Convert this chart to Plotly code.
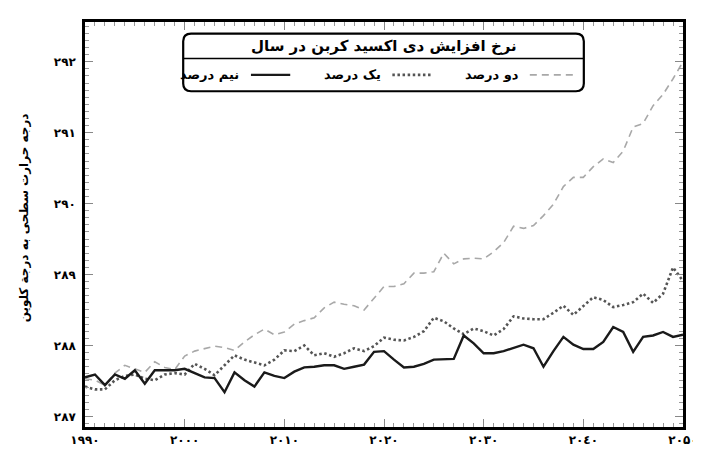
import plotly.graph_objects as go

years = list(range(1990, 2051))

half_pct = [287.55, 287.59, 287.44, 287.59, 287.53, 287.65, 287.46, 287.65, 287.65, 287.65,
            287.67, 287.61, 287.55, 287.54, 287.34, 287.62, 287.51, 287.42, 287.62, 287.57,
            287.54, 287.63, 287.69, 287.70, 287.72, 287.72, 287.67, 287.70, 287.73, 287.91,
            287.92, 287.80, 287.69, 287.70, 287.74, 287.80, 287.81, 287.81, 288.14, 288.03,
            287.89, 287.89, 287.92, 287.96, 288.01, 287.96, 287.70, 287.92, 288.12, 288.01,
            287.95, 287.95, 288.05, 288.26, 288.19, 287.91, 288.12, 288.14, 288.19, 288.12,
            288.15]

one_pct = [287.42, 287.38, 287.38, 287.51, 287.57, 287.59, 287.53, 287.51, 287.59, 287.61,
           287.59, 287.74, 287.67, 287.58, 287.72, 287.86, 287.80, 287.76, 287.72, 287.80,
           287.93, 287.92, 288.00, 287.86, 287.89, 287.84, 287.89, 287.96, 287.92, 287.99,
           288.11, 288.08, 288.07, 288.12, 288.20, 288.39, 288.34, 288.24, 288.16, 288.24,
           288.20, 288.14, 288.23, 288.41, 288.38, 288.37, 288.37, 288.46, 288.56, 288.43,
           288.56, 288.68, 288.64, 288.54, 288.57, 288.61, 288.73, 288.60, 288.73, 289.10,
           288.91]

two_pct = [287.53, 287.51, 287.44, 287.61, 287.72, 287.67, 287.62, 287.77, 287.69, 287.66,
           287.85, 287.92, 287.95, 287.99, 287.97, 287.93, 288.05, 288.15, 288.23, 288.15,
           288.19, 288.30, 288.35, 288.39, 288.53, 288.61, 288.58, 288.56, 288.50, 288.66,
           288.83, 288.83, 288.87, 289.02, 289.02, 289.04, 289.30, 289.15, 289.22, 289.23,
           289.22, 289.32, 289.45, 289.68, 289.65, 289.69, 289.83, 289.99, 290.24, 290.37,
           290.37, 290.52, 290.63, 290.58, 290.74, 291.08, 291.13, 291.38, 291.54, 291.76,
           292.00]

x_tickvals = [1990, 2000, 2010, 2020, 2030, 2040, 2050]
x_ticktext = ["۱۹۹۰", "۲۰۰۰", "۲۰۱۰", "۲۰۲۰", "۲۰۳۰", "۲۰٤۰", "۲۰۵۰"]
y_tickvals = [287, 288, 289, 290, 291, 292]
y_ticktext = ["۲۸۷", "۲۸۸", "۲۸۹", "۲۹۰", "۲۹۱", "۲۹۲"]

legend_title = "نرخ افزایش دی اکسید کربن در سال"
series_names = ["دو درصد", "یک درصد", "نیم درصد"]
y_title = "درجه حرارت سطحی به درجة کلوین"

FONT = "DejaVu Sans"
W, H = 701, 450
ML, MR, MT, MB = 77, 15, 11, 18
PW, PH = W - ML - MR, H - MT - MB


def px(x):
    return (x - ML) / PW


def py(y):
    return (H - MB - y) / PH


styles = [
    dict(color="#a8a8a8", width=1.6, dash="7px,5px"),
    dict(color="#555555", width=2.6, dash="2.5px,2.6px"),
    dict(color="#1a1a1a", width=2.4, dash="solid"),
]

fig = go.Figure()
for name, vals, st in zip(series_names, [two_pct, one_pct, half_pct], styles):
    fig.add_trace(go.Scatter(x=years, y=vals, mode="lines", name=name,
                             line=st, showlegend=False))

axis_common = dict(showgrid=False, zeroline=False, showline=True, linecolor="black",
                   linewidth=2.5, mirror="allticks", ticks="inside", tickcolor="#888888",
                   tickwidth=1, ticklen=8,
                   tickfont=dict(family=FONT, size=12, color="black", weight="bold"))

fig.update_xaxes(range=[1990, 2050], tickvals=x_tickvals, ticktext=x_ticktext,
                 minor=dict(dtick=1, ticklen=4, tickcolor="#999999", ticks="inside"),
                 **axis_common)
fig.update_yaxes(range=[286.85, 292.56], tickvals=y_tickvals, ticktext=y_ticktext,
                 minor=dict(dtick=0.1, ticklen=4, tickcolor="#999999", ticks="inside"),
                 ticklabelstandoff=4, **axis_common)

# legend box (rounded rect)
L, R, T, B = 177, 585, 23, 83
rx, ry = 8 / PW, 8 / PH
l, r, t, b = px(L), px(R), py(T), py(B)
path = (f"M {l+rx},{t} L {r-rx},{t} Q {r},{t} {r},{t-ry} L {r},{b+ry} Q {r},{b} {r-rx},{b} "
        f"L {l+rx},{b} Q {l},{b} {l},{b+ry} L {l},{t-ry} Q {l},{t} {l+rx},{t} Z")
shapes = [
    dict(type="path", path=path, xref="paper", yref="paper", fillcolor="white",
         line=dict(color="black", width=2.2), layer="above"),
    dict(type="line", xref="paper", yref="paper", x0=l, x1=r, y0=py(49), y1=py(49),
         line=dict(color="black", width=1.5)),
]
sample_pos = [(530, 577), (390, 430), (246, 286)]
label_right = [521, 380, 236]
annotations = [
    dict(text=legend_title, x=px(381), y=py(36), xref="paper", yref="paper",
         showarrow=False, xanchor="center", yanchor="middle",
         font=dict(family=FONT, size=15, color="black", weight="bold")),
    dict(text=y_title, x=px(15), y=py(215), xref="paper", yref="paper", textangle=-90,
         showarrow=False, xanchor="center", yanchor="middle",
         font=dict(family=FONT, size=12, color="black", weight="bold")),
]
for (x0, x1), lr, name, st in zip(sample_pos, label_right, series_names, styles):
    shapes.append(dict(type="line", xref="paper", yref="paper", x0=px(x0), x1=px(x1),
                       y0=py(66), y1=py(66), line=st))
    annotations.append(dict(text=name, x=px(lr), y=py(66), xref="paper", yref="paper",
                            showarrow=False, xanchor="right", yanchor="middle",
                            font=dict(family=FONT, size=13, color="black", weight="bold")))

fig.update_layout(width=W, height=H, margin=dict(l=ML, r=MR, t=MT, b=MB),
                  plot_bgcolor="white", paper_bgcolor="white",
                  shapes=shapes, annotations=annotations)

fig.write_html("out.html")
